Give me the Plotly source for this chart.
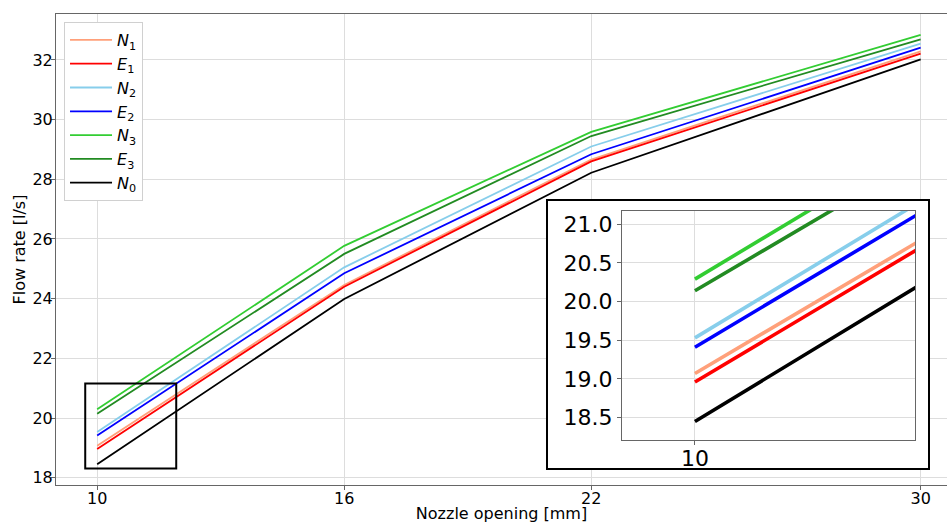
import plotly.graph_objects as go

# ---- data ----
nozzle = [10, 16, 22, 30]
N1 = [19.07, 24.46, 28.66, 32.29]
E1 = [18.96, 24.40, 28.60, 32.21]
N2 = [19.53, 25.05, 29.10, 32.55]
E2 = [19.41, 24.85, 28.84, 32.41]
N3 = [20.29, 25.77, 29.59, 32.84]
E3 = [20.14, 25.50, 29.45, 32.69]
N0 = [18.45, 23.99, 28.22, 32.02]

series = [
    ("<i>N</i><sub>1</sub>", N1, "#FFA07A"),
    ("<i>E</i><sub>1</sub>", E1, "#FF0000"),
    ("<i>N</i><sub>2</sub>", N2, "#87CEEB"),
    ("<i>E</i><sub>2</sub>", E2, "#0000FF"),
    ("<i>N</i><sub>3</sub>", N3, "#32CD32"),
    ("<i>E</i><sub>3</sub>", E3, "#228B22"),
    ("<i>N</i><sub>0</sub>", N0, "#000000"),
]

main_yticks = [18, 20, 22, 24, 26, 28, 30, 32]
inset_yticks = [18.5, 19.0, 19.5, 20.0, 20.5, 21.0]
inset_xrange = [9.38, 11.87]
inset_yrange = [18.21, 21.17]
zoom_box_x = [9.71, 11.92]
zoom_box_y = [18.31, 21.16]

FONT = "DejaVu Sans"
fig = go.Figure()

for name, ys, col in series:
    fig.add_trace(go.Scatter(x=nozzle, y=ys, mode="lines", name=name,
                             line=dict(color=col, width=1.8),
                             xaxis="x", yaxis="y"))

# empty trace that only creates the white framed panel holding the inset
fig.add_trace(go.Scatter(x=[], y=[], mode="lines", xaxis="x2", yaxis="y2",
                         showlegend=False, hoverinfo="skip"))

for name, ys, col in series:
    fig.add_trace(go.Scatter(x=nozzle, y=ys, mode="lines", name=name,
                             line=dict(color=col, width=3.6),
                             xaxis="x3", yaxis="y3", showlegend=False))

# zoom rectangle on the main axes
fig.add_shape(type="rect", xref="x", yref="y",
              x0=zoom_box_x[0], x1=zoom_box_x[1],
              y0=zoom_box_y[0], y1=zoom_box_y[1],
              line=dict(color="black", width=2), layer="above")

grid = "#dddddd"
spine = "#666666"

fig.update_layout(
    width=947, height=523,
    margin=dict(l=56, r=0, t=14, b=38, autoexpand=False),
    paper_bgcolor="white", plot_bgcolor="white",
    font=dict(family=FONT, size=16, color="black"),
    showlegend=True,
    legend=dict(x=0.009, y=0.983, xanchor="left", yanchor="top",
                bgcolor="white", bordercolor="#d0d0d0", borderwidth=1,
                font=dict(size=16), tracegroupgap=0, itemwidth=42),
    xaxis=dict(domain=[0, 1], range=[9.0, 30.64], tickvals=nozzle,
               ticks="outside", ticklen=4, tickcolor=spine,
               showline=True, linecolor=spine, linewidth=1, mirror=True,
               showgrid=True, gridcolor=grid, gridwidth=1, zeroline=False,
               automargin=False, ticklabelstandoff=-5,
               title=dict(text="Nozzle opening [mm]", standoff=6,
                          font=dict(size=16)),
               tickfont=dict(size=16), anchor="y"),
    yaxis=dict(domain=[0, 1], range=[17.755, 33.54], tickvals=main_yticks,
               ticks="outside", ticklen=4, tickcolor=spine,
               showline=True, linecolor=spine, linewidth=1, mirror=False,
               showgrid=True, gridcolor=grid, gridwidth=1, zeroline=False,
               automargin=False, ticklabelstandoff=-5,
               title=dict(text="Flow rate [l/s]", standoff=2,
                          font=dict(size=16)),
               tickfont=dict(size=16), anchor="x"),
    # white frame behind the inset
    xaxis2=dict(domain=[0.552, 0.9787], range=[0, 1], anchor="y2",
                showline=True, linecolor="black", linewidth=2, mirror=True,
                showgrid=False, zeroline=False, showticklabels=False,
                ticks="", fixedrange=True, automargin=False),
    yaxis2=dict(domain=[0.0361, 0.603], range=[0, 1], anchor="x2",
                showline=True, linecolor="black", linewidth=2, mirror=True,
                showgrid=False, zeroline=False, showticklabels=False,
                ticks="", fixedrange=True, automargin=False),
    # inset axes
    xaxis3=dict(domain=[0.6352, 0.9641], range=inset_xrange, anchor="y3",
                tickvals=[10], ticks="outside", ticklen=4, tickcolor=spine,
                showline=True, linecolor=spine, linewidth=1, mirror=True,
                showgrid=True, gridcolor=grid, zeroline=False,
                automargin=False, ticklabelstandoff=-5,
                tickfont=dict(size=22)),
    yaxis3=dict(domain=[0.0955, 0.5817], range=inset_yrange, anchor="x3",
                tickvals=inset_yticks, tickformat=".1f",
                ticks="outside", ticklen=4, tickcolor=spine,
                showline=True, linecolor=spine, linewidth=1, mirror=True,
                showgrid=True, gridcolor=grid, zeroline=False,
                automargin=False, tickfont=dict(size=22)),
)

fig.write_html("out.html",
               config={"displayModeBar": False},
               post_script="document.body.style.margin='0';"
                           "document.body.style.overflow='hidden';")
